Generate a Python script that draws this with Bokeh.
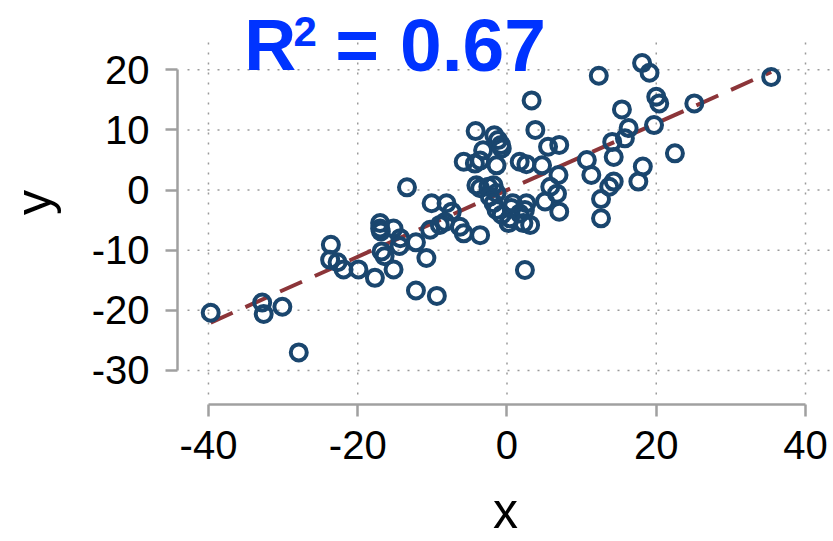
import numpy as np
from bokeh.plotting import figure
from bokeh.models import FixedTicker, Label, Range1d
from bokeh.embed import file_html
from bokeh.resources import INLINE

x_vals = [-39.7, -32.8, -32.6, -30.1, -27.9, -23.6, -23.7, -22.7, -21.9, -19.9,
          -17.7, -17.0, -17.0, -16.9, -16.8, -16.4, -15.2, -15.2, -14.3, -14.4,
          -13.4, -12.2, -12.2, -10.8, -9.4, -10.1, -10.3, -9.0, -8.1, -7.4,
          -8.3, -6.3, -5.8, -3.6, -5.8, -4.3, -3.6, -4.2, -3.2, -1.7,
          -1.2, -0.8, -0.7, -1.4, 1.7, 2.6, -4.1, -3.6, -2.5, -1.8,
          -1.4, -2.3, -1.8, -1.4, -0.7, 0.4, 0.6, 1.7, 2.4, 0.2,
          2.2, 2.4, 3.1, 0.8, 2.6, 3.3, 3.8, 5.5, 7.0, 4.7,
          6.9, 5.8, 6.7, 5.1, 7.0, 10.7, 11.3, 12.6, 12.6, 13.7,
          14.3, 14.3, 14.1, 15.4, 16.3, 15.8, 12.3, 18.1, 19.1, 20.0,
          20.4, 25.1, 19.7, 22.5, 18.2, 17.6, 35.4]
y_vals = [-20.4, -18.7, -20.6, -19.4, -27.0, -9.1, -11.6, -12.0, -13.2, -13.2,
          -14.6, -5.5, -6.4, -6.9, -10.2, -11.0, -6.4, -13.2, -8.0, -9.3,
          0.45, -8.7, -16.7, -11.3, -17.6, -2.2, -6.6, -5.8, -2.2, -3.6,
          -5.3, -6.1, -7.2, -7.5, 4.7, 4.4, 4.9, 9.8, 6.6, 9.1,
          8.3, 7.5, 6.9, 4.1, 4.7, 4.3, 0.8, 0.3, 0.55, 0.8,
          -0.5, -1.1, -2.2, -3.3, -4.1, -4.7, -3.0, -3.9, -3.3, -5.5,
          -5.5, -13.3, -5.8, -2.2, -2.2, 14.9, 10.0, 7.2, 7.5, 4.1,
          2.5, 0.55, -0.6, -1.9, -3.6, 5.0, 2.5, -1.5, -4.7, 0.55,
          1.4, 5.5, 8.0, 13.4, 10.3, 8.6, 19.0, 21.1, 19.5, 15.5,
          14.4, 14.4, 10.8, 6.1, 3.9, 1.4, 18.8]

fit_slope = 0.555
fit_intercept = 0.0
title_parts = ["R", "2", "= 0.67"]
x_label = "x"
y_label = "y"
x_ticks = [-40, -20, 0, 20, 40]
y_ticks = [-30, -20, -10, 0, 10, 20]

x_range = Range1d(-44.15, 43.75)
y_range = Range1d(-35.655, 31.51)

p = figure(width=833, height=541, x_range=x_range, y_range=y_range,
           output_backend="svg", toolbar_location=None,
           min_border_left=177, min_border_right=0,
           min_border_top=0, min_border_bottom=136)
p.outline_line_color = None
p.grid.visible = False

# dotted grid lines (offset from the detached axes)
grid_color = "#9a9a9a"
gx0 = x_range.start + 10 / 7.4625
gy0 = y_range.start + 10 / 6.03
gy1 = y_range.end - 35 / 6.03
p.segment(x0=x_ticks, x1=x_ticks, y0=[gy0] * len(x_ticks), y1=[gy1] * len(x_ticks),
          line_color=grid_color, line_width=1.5, line_dash="2 8")
p.segment(x0=[gx0] * len(y_ticks), x1=[x_range.end] * len(y_ticks), y0=y_ticks, y1=y_ticks,
          line_color=grid_color, line_width=1.5, line_dash="2 8")

# regression line
xmin, xmax = min(x_vals), max(x_vals)
p.line([xmin, xmax], [fit_intercept + fit_slope * xmin, fit_intercept + fit_slope * xmax],
       line_color="#8c3539", line_width=4, line_dash="24 14")

p.scatter(x_vals, y_vals, marker="circle", size=16, fill_color=None,
          line_color="#1a466e", line_width=4)

axis_color = "#a0a0a0"
for ax, ticks in ((p.xaxis[0], x_ticks), (p.yaxis[0], y_ticks)):
    ax.ticker = FixedTicker(ticks=ticks)
    ax.major_label_overrides = {t: str(t) for t in ticks}
    ax.bounds = (min(ticks), max(ticks))
    ax.axis_line_color = axis_color
    ax.axis_line_width = 2.5
    ax.major_tick_line_color = axis_color
    ax.major_tick_line_width = 2.5
    ax.major_tick_out = 12
    ax.major_tick_in = 0
    ax.minor_tick_line_color = None
    ax.major_label_text_font = "Liberation Sans"
    ax.major_label_text_font_size = "40px"
    ax.major_label_text_color = "black"
    ax.axis_label_text_font = "Liberation Sans"
    ax.axis_label_text_font_size = "50px"
    ax.axis_label_text_font_style = "normal"
    ax.axis_label_text_color = "black"

p.xaxis.axis_label = x_label
p.yaxis.axis_label = y_label
p.xaxis.major_label_standoff = 14
p.yaxis.major_label_standoff = 16
p.xaxis.axis_label_standoff = 21
p.yaxis.axis_label_standoff = 27

tcolor = "#0033ff"
common = dict(text_font="Liberation Sans", text_font_style="bold", text_color=tcolor,
              text_align="left", text_baseline="alphabetic")
p.add_layout(Label(x=-35.2, y=24.05, text=title_parts[0], text_font_size="72px", **common))
p.add_layout(Label(x=-28.6, y=26.3, text=title_parts[1], text_font_size="42px", **common))
p.add_layout(Label(x=-23.0, y=24.1, text=title_parts[2], text_font_size="75px", **common))

open("out.html", "w").write(file_html(p, INLINE))
